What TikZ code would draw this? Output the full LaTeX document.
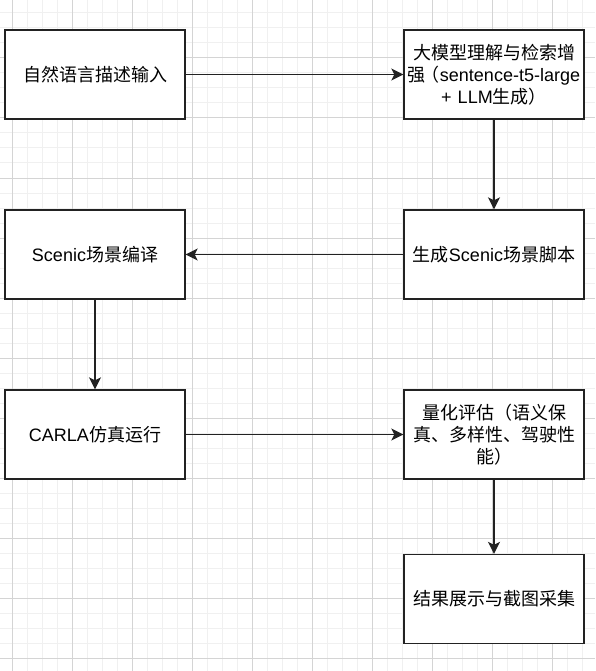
\documentclass[tikz,border=0pt]{standalone}
\usepackage{fontspec}
\setmainfont{Liberation Sans}
\newfontfamily\cjk{Noto Sans CJK SC}
\usetikzlibrary{arrows.meta}
\definecolor{gridminor}{HTML}{F0F0F0}
\definecolor{gridmajor}{HTML}{D4D4D4}
\definecolor{edge}{HTML}{222222}
\newcommand{\boxline}[1]{\makebox[176pt][c]{#1}}
\tikzset{
  procbox/.style={draw=edge, line width=1.3pt, fill=white, minimum width=180pt, minimum height=89pt,
    inner sep=2pt, align=center, font=\fontsize{18}{22}\selectfont, text width=176pt},
  flow/.style={draw=edge, line width=1.4pt, -{Stealth[length=12pt,width=12pt,inset=3pt]}}
}
\begin{document}
\begin{tikzpicture}[x=1pt,y=-1pt]
\useasboundingbox (0,0) rectangle (595,671);
\fill[white] (0,0) rectangle (595,671);
% minor grid
\foreach \x in {12,27,...,592} \draw[gridminor, line width=1pt] (\x,0) -- (\x,671);
\foreach \y in {13,28,...,668} \draw[gridminor, line width=1pt] (0,\y) -- (595,\y);
% major grid
\foreach \x in {12,72,...,592} \draw[gridmajor, line width=1pt] (\x,0) -- (\x,671);
\foreach \y in {58,118,...,658} \draw[gridmajor, line width=1pt] (0,\y) -- (595,\y);

\node[procbox] (n1) at (95,74.5) {\cjk 自然语言描述输入};
\node[procbox] (n2) at (494,74.5) {\boxline{\cjk 大模型理解与检索增}\\\boxline{{\cjk 强}\kern-4pt{\cjk （}sentence-t5-large}\\\boxline{+ LLM{\cjk 生成）}}};
\node[procbox] (n4) at (494,254.5) {{\cjk 生成}Scenic{\cjk 场景脚本}};
\node[procbox] (n3) at (95,254.5) {Scenic{\cjk 场景编译}};
\node[procbox] (n5) at (95,434.5) {CARLA{\cjk 仿真运行}};
\node[procbox] (n6) at (494,434.5) {\boxline{\cjk 量化评估（语义保}\\\boxline{\cjk 真、多样性、驾驶性}\\\boxline{\cjk 能）}};
\node[procbox] (n7) at (494,599) {\cjk 结果展示与截图采集};

\draw[flow] (n1) -- (n2);
\draw[flow] (n2) -- (n4);
\draw[flow] (n4) -- (n3);
\draw[flow] (n3) -- (n5);
\draw[flow] (n5) -- (n6);
\draw[flow] (n6) -- (n7);
\end{tikzpicture}
\end{document}
